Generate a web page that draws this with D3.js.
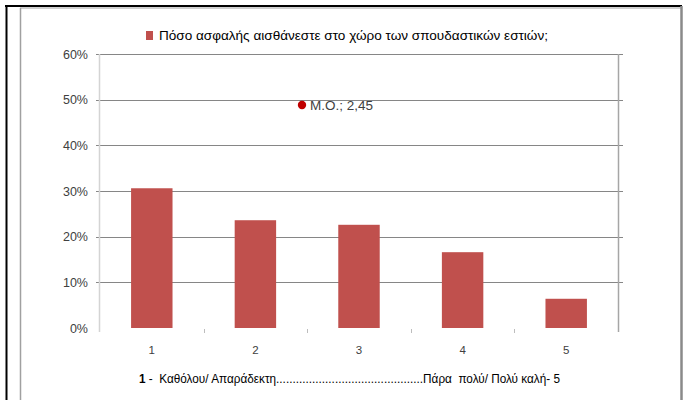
<!DOCTYPE html>
<html>
<head>
<meta charset="utf-8">
<script src="https://cdn.jsdelivr.net/npm/d3@7"></script>
<style>
  body { margin: 0; background: #fff; }
  svg { display: block; font-family: "Liberation Sans", Arial, sans-serif; }
  text { white-space: pre; }
</style>
</head>
<body>
<div id="chart"></div>
<script>
// data
var categories = ["1", "2", "3", "4", "5"];
var values = [0.306, 0.236, 0.226, 0.166, 0.064];
var yTicks = [0, 0.1, 0.2, 0.3, 0.4, 0.5, 0.6];
var seriesName = "Πόσο ασφαλής αισθάνεστε στο χώρο των σπουδαστικών εστιών;";
var meanLabel = "M.O.; 2,45";
var scaleNote = " -  Καθόλου/ Απαράδεκτη.............................................Πάρα  πολύ/ Πολύ καλή- 5";

var width = 684, height = 400;
var plot = {left: 100, right: 618, top: 54, bottom: 328};

var svg = d3.select("#chart").append("svg")
	.attr("width", width)
	.attr("height", height);

// frame
svg.append("line").attr("x1", 6.5).attr("x2", 6.5).attr("y1", 5).attr("y2", height)
	.attr("stroke", "#000").attr("stroke-width", 2);
svg.append("line").attr("x1", 5).attr("x2", 682).attr("y1", 6).attr("y2", 6)
	.attr("stroke", "#000").attr("stroke-width", 2);
svg.append("line").attr("x1", 20.5).attr("x2", 20.5).attr("y1", 8).attr("y2", height)
	.attr("stroke", "#a0a0a0").attr("stroke-width", 1.5);
svg.append("line").attr("x1", 20).attr("x2", 682).attr("y1", 8).attr("y2", 8)
	.attr("stroke", "#a0a0a0").attr("stroke-width", 1);
svg.append("line").attr("x1", 681.5).attr("x2", 681.5).attr("y1", 6).attr("y2", height)
	.attr("stroke", "#8a8a8a").attr("stroke-width", 2.5);

var x = d3.scaleBand().domain(categories)
	.range([plot.left, plot.right])
	.paddingInner(0.6).paddingOuter(0.3);

var y = d3.scaleLinear().domain([0, 0.6]).range([plot.bottom, plot.top]);

// gridlines
svg.append("g").selectAll("line").data(yTicks.filter(function(d){ return d > 0; }))
	.enter().append("line")
	.attr("x1", plot.left - 4).attr("x2", plot.right + 5)
	.attr("y1", function(d){ return Math.round(y(d)) + 0.5; })
	.attr("y2", function(d){ return Math.round(y(d)) + 0.5; })
	.attr("stroke", "#868686").attr("stroke-width", 1);

// left axis line and right border
svg.append("line").attr("x1", plot.left - 0.5).attr("x2", plot.left - 0.5)
	.attr("y1", plot.top).attr("y2", plot.bottom + 4)
	.attr("stroke", "#d4d4d4").attr("stroke-width", 1.5);
svg.append("line").attr("x1", plot.right + 0.5).attr("x2", plot.right + 0.5)
	.attr("y1", plot.top).attr("y2", plot.bottom + 4)
	.attr("stroke", "#a6a6a6").attr("stroke-width", 1.5);

// y labels
svg.append("g").selectAll("text").data(yTicks)
	.enter().append("text")
	.attr("x", 88)
	.attr("y", function(d){ return y(d) + 4.5; })
	.attr("text-anchor", "end")
	.attr("font-size", 12.5)
	.attr("fill", "#404040")
	.text(function(d){ return Math.round(d * 100) + "%"; });

// category tick marks
var tickPos = categories.map(function(c){ return x(c) - x.step() * x.paddingInner() / 2; });
svg.append("g").selectAll("line").data(tickPos.slice(1))
	.enter().append("line")
	.attr("x1", function(d){ return Math.round(d) + 0.5; })
	.attr("x2", function(d){ return Math.round(d) + 0.5; })
	.attr("y1", plot.bottom + 1).attr("y2", plot.bottom + 5)
	.attr("stroke", "#bdbdbd").attr("stroke-width", 1);

// bars
svg.append("g").selectAll("rect").data(values)
	.enter().append("rect")
	.attr("x", function(d, i){ return x(categories[i]); })
	.attr("y", function(d){ return y(d); })
	.attr("width", x.bandwidth())
	.attr("height", function(d){ return y(0) - y(d); })
	.attr("fill", "#c0504d");

// x labels
svg.append("g").selectAll("text").data(categories)
	.enter().append("text")
	.attr("x", function(d){ return x(d) + x.bandwidth() / 2; })
	.attr("y", 354)
	.attr("text-anchor", "middle")
	.attr("font-size", 11.5)
	.attr("fill", "#404040")
	.text(function(d){ return d; });

// legend
svg.append("rect").attr("x", 146).attr("y", 31).attr("width", 7).attr("height", 9)
	.attr("fill", "#c0504d");
svg.append("text").attr("x", 159).attr("y", 40)
	.attr("font-size", 12.5).attr("fill", "#000")
	.attr("textLength", 389).attr("lengthAdjust", "spacingAndGlyphs")
	.text(seriesName);

// mean marker
svg.append("circle").attr("cx", 302).attr("cy", 105).attr("r", 4.2)
	.attr("fill", "#c00000");
svg.append("text").attr("x", 310).attr("y", 109.5)
	.attr("font-size", 12.5).attr("fill", "#404040")
	.attr("textLength", 63).attr("lengthAdjust", "spacingAndGlyphs")
	.text(meanLabel);

// scale note under the axis
var note = svg.append("text").attr("x", 139).attr("y", 383)
	.attr("font-size", 12).attr("fill", "#000")
	.attr("textLength", 421).attr("lengthAdjust", "spacingAndGlyphs");
note.append("tspan").attr("font-weight", "bold").text("1");
note.append("tspan").text(scaleNote);
</script>
</body>
</html>
